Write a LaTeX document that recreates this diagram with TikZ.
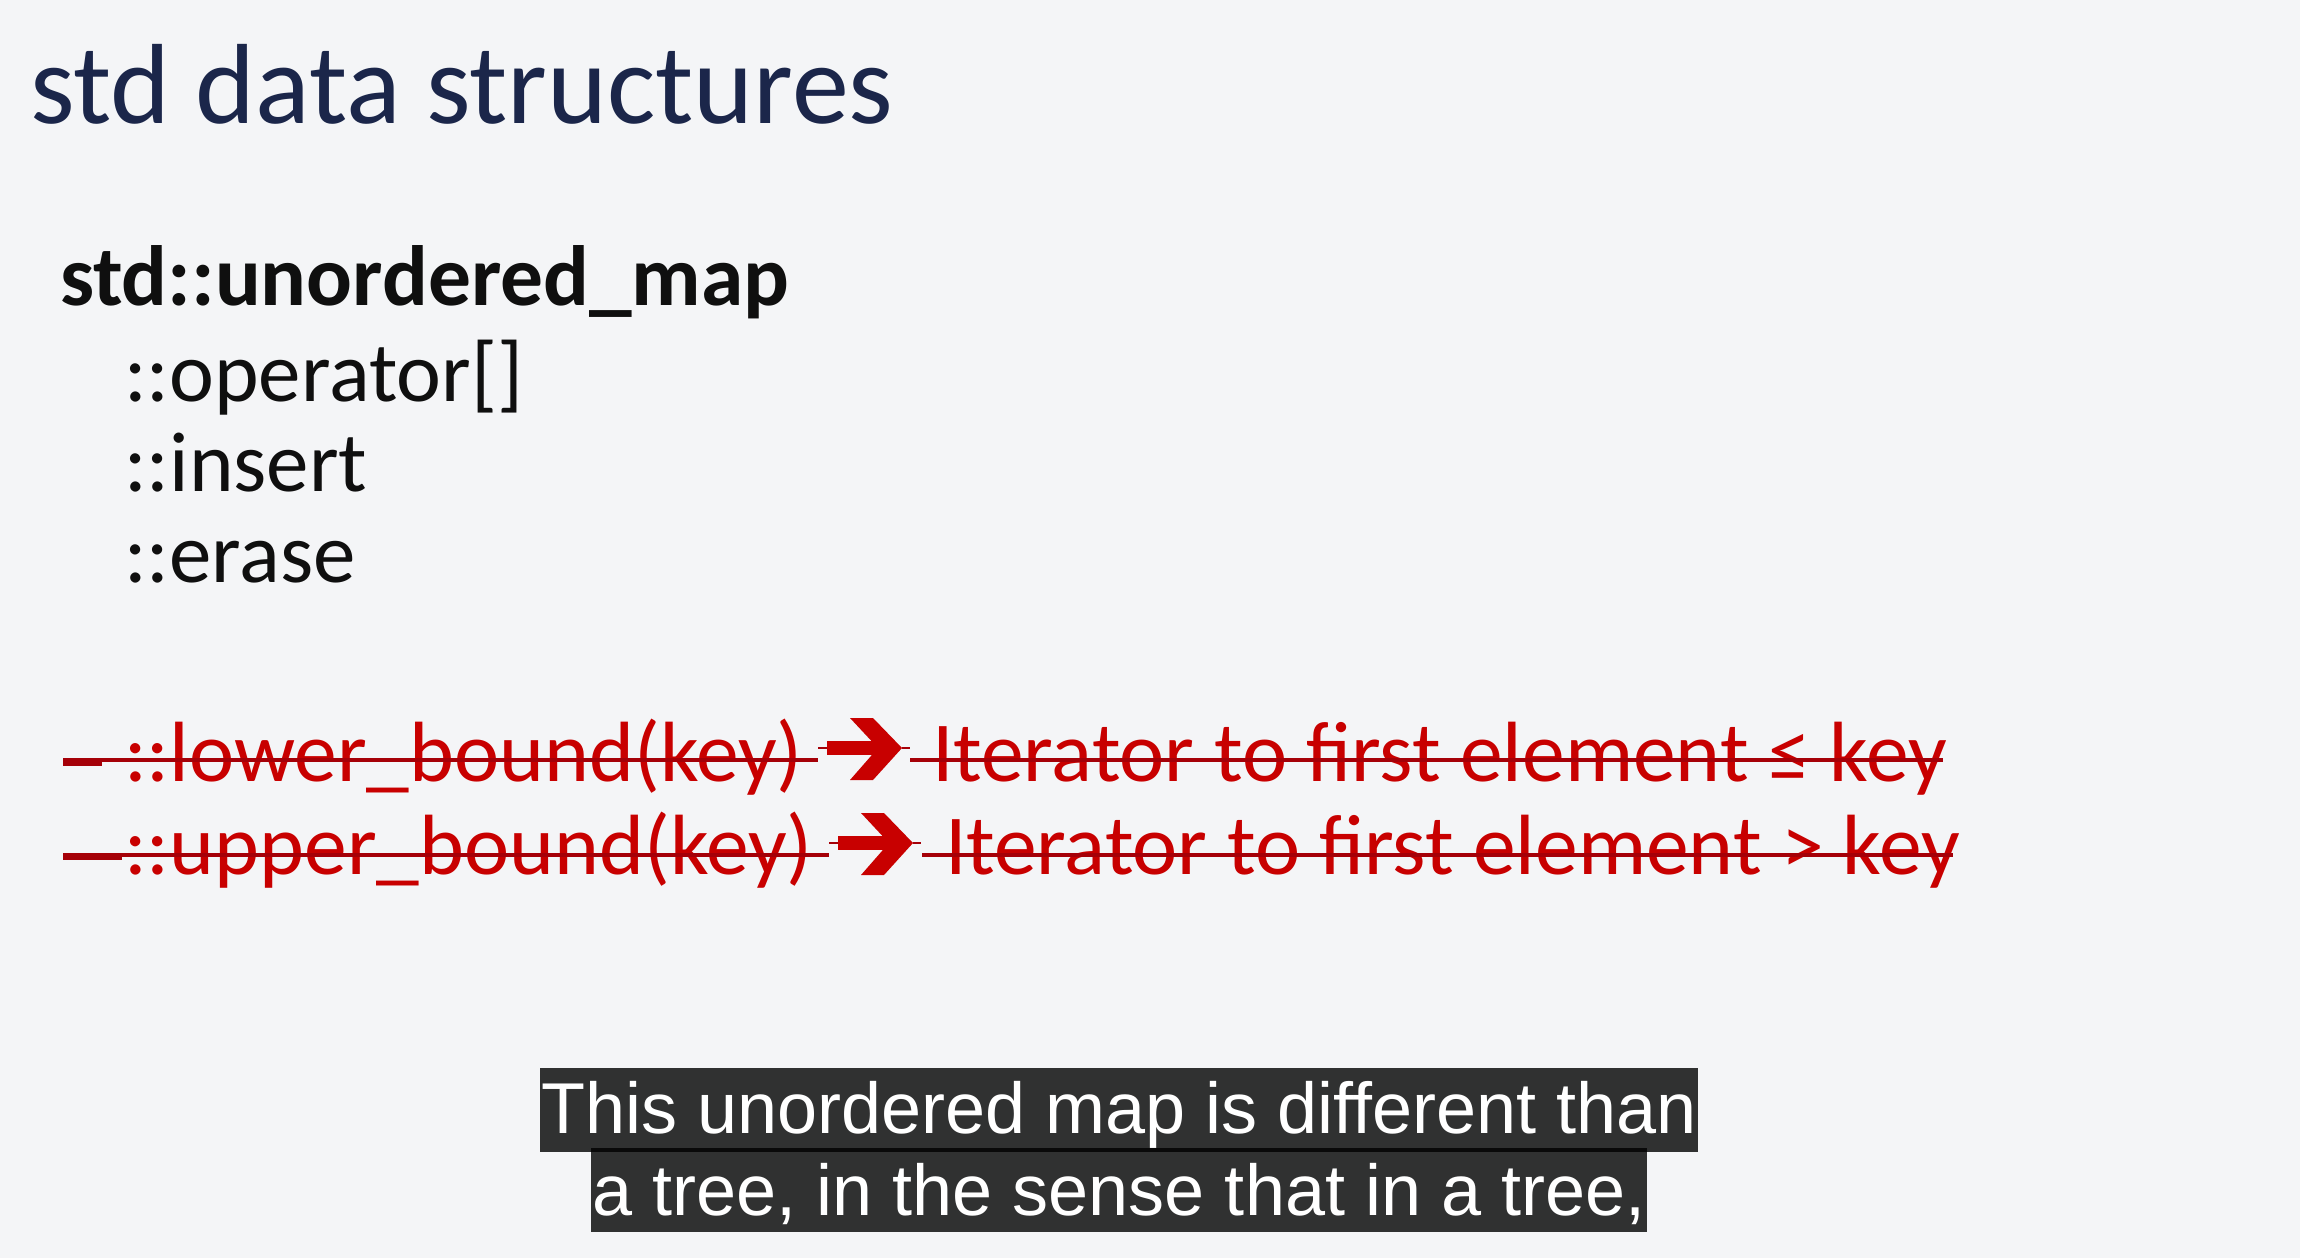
\documentclass[tikz,border=0pt]{standalone}
\usepackage{fontspec}
\setmainfont{Carlito}
\newfontfamily\capfont{Liberation Sans}
\definecolor{bgc}{RGB}{244,245,247}
\definecolor{navy}{RGB}{27,38,74}
\definecolor{ink}{RGB}{15,15,15}
\definecolor{redtxt}{RGB}{200,0,0}
\definecolor{redline}{RGB}{165,0,8}
\newcommand\strarrow[2]{%
  \begin{scope}[shift={(#1,#2)}]
    \fill[redtxt] (-3,-7) rectangle (50,7);
    \fill[redtxt] (20,-30) -- (43,-30) -- (72,0) -- (43,32) -- (20,32) -- (48,0) -- cycle;
    \draw[redline,line width=2.5pt] (-12,0) -- (-3,0) (72,0) -- (80,0);
  \end{scope}}
\begin{document}
\begin{tikzpicture}[x=1pt,y=-1pt,
  txt/.style={anchor=base west,inner sep=0pt,outer sep=0pt},
  body/.style={txt,text=ink,font=\fontsize{85}{100}\selectfont},
  redt/.style={txt,text=redtxt,font=\fontsize{85.5}{100}\selectfont},
  strike/.style={draw=redline,line width=3.5pt},
  dashmark/.style={draw=redline,line width=7pt},
  capbox/.style={fill=black,fill opacity=0.8},
  captxt/.style={anchor=base,inner sep=0pt,text=white,font=\capfont\fontsize{72}{86}\selectfont}]
\fill[bgc] (0,0) rectangle (2300,1258);
\useasboundingbox (0,0) rectangle (2300,1258);

\node[txt,text=navy,font=\fontsize{114}{130}\selectfont] (title) at (30,123) {std data structures};

\node[txt,text=ink,font=\fontsize{85.5}{100}\selectfont\bfseries] (um) at (60,305) {std::unordered\_map};
\node[body] (op) at (124,401) {::operator[]};
\node[body] (ins) at (124,491) {::insert};
\node[body] (era) at (124,582) {::erase};

\node[redt] (lb) at (124,781) {::lower\_bound(key)};
\node[redt] (it1) at (932,781) {Iterator to first element ≤ key};
\node[redt] (ub) at (124,874) {::upper\_bound(key)};
\node[redt] (it2) at (945,874) {Iterator to first element > key};

\draw[dashmark] (63,762) -- (102,762);
\draw[strike] (63,760) -- (818,760);
\draw[strike] (910,760) -- (1943,760);
\strarrow{830}{748}

\draw[dashmark] (63,856) -- (122,856);
\draw[strike] (63,855) -- (829,855);
\draw[strike] (922,855) -- (1953,855);
\strarrow{841}{843}

\fill[capbox] (540,1068) rectangle (1698,1152);
\fill[capbox] (591,1148) rectangle (1647,1232);
\node[captxt] (c1) at (1119,1133) {This unordered map is different than};
\node[captxt] (c2) at (1119,1215) {a tree, in the sense that in a tree,};
\end{tikzpicture}
\end{document}
